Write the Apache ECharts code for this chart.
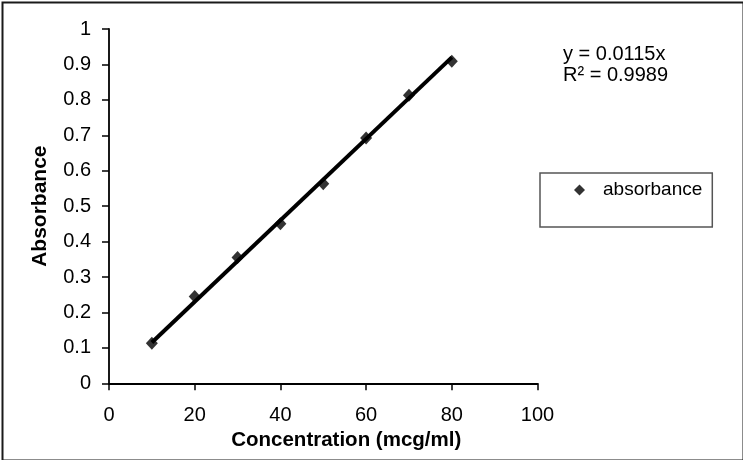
<!DOCTYPE html>
<html>
<head>
<meta charset="utf-8">
<script src="https://cdn.jsdelivr.net/npm/echarts@6/dist/echarts.min.js"></script>
<style>
html,body{margin:0;padding:0;background:#fff;}
#c{width:743px;height:460px;}
</style>
</head>
<body>
<div id="c"></div>
<script>
// Data
var concentration = [10, 20, 30, 40, 50, 60, 70, 80];
var absorbance = [0.113, 0.245, 0.355, 0.450, 0.563, 0.692, 0.813, 0.909];
var trendX = [10, 80];
var trendY = [0.115, 0.92];
var equationLines = ['y = 0.0115x', 'R² = 0.9989'];
var seriesName = 'absorbance';
var xAxisName = 'Concentration (mcg/ml)';
var yAxisName = 'Absorbance';

var FONT = '"Liberation Sans", Arial, sans-serif';

var chart = echarts.init(document.getElementById('c'));
chart.setOption({
  animation: false,
  backgroundColor: '#fff',
  grid: { left: 109, right: 205.5, top: 29, bottom: 76.7 },
  xAxis: {
    type: 'value', min: 0, max: 100, interval: 20,
    name: xAxisName, nameLocation: 'middle', nameGap: 37,
    nameTextStyle: { fontFamily: FONT, fontWeight: 'bold', fontSize: 20.5, color: '#000', padding: [0, 0, 0, 46] },
    axisLine: { lineStyle: { color: '#000', width: 1.8 } },
    axisTick: { length: 7, lineStyle: { color: '#000', width: 1.5 } },
    axisLabel: { fontFamily: FONT, fontSize: 20, color: '#000', margin: 22 },
    splitLine: { show: false }
  },
  yAxis: {
    type: 'value', min: 0, max: 1, interval: 0.1,
    name: yAxisName, nameLocation: 'middle', nameGap: 58, nameRotate: 90,
    nameTextStyle: { fontFamily: FONT, fontWeight: 'bold', fontSize: 21, color: '#000' },
    axisLine: { show: true, lineStyle: { color: '#000', width: 1.8 } },
    axisTick: { show: true, length: 7, lineStyle: { color: '#000', width: 1.5 } },
    axisLabel: { fontFamily: FONT, fontSize: 20, color: '#000', margin: 18,
      formatter: function (v) { return String(Math.round(v * 10) / 10); } },
    splitLine: { show: false }
  },
  legend: {
    data: [seriesName],
    left: 540, top: 173,
    orient: 'vertical',
    borderColor: '#555', borderWidth: 1.5,
    padding: [7, 10, 27, 34],
    itemWidth: 11, itemHeight: 11,
    textStyle: { fontFamily: FONT, fontSize: 19, color: '#000', lineHeight: 20, padding: [0, 0, 0, 13] }
  },
  series: [
    {
      name: 'trend', type: 'line',
      data: trendX.map(function (x, i) { return [x, trendY[i]]; }),
      showSymbol: false, symbol: 'none',
      lineStyle: { color: '#000', width: 4 },
      z: 2
    },
    {
      name: seriesName, type: 'scatter',
      data: concentration.map(function (x, i) { return [x, absorbance[i]]; }),
      symbol: 'diamond', symbolSize: [12, 13],
      itemStyle: { color: '#000' },
      z: 3
    }
  ],
  graphic: [
    {
      type: 'text', left: 563, top: 44,
      style: { text: equationLines.join('\n'), font: '20px ' + FONT, fill: '#000', lineHeight: 21 }
    },
    {
      type: 'rect', left: 0, top: 0, silent: true,
      shape: { x: 0, y: 0, width: 741, height: 458 },
      style: { fill: 'none', stroke: '#1a1a1a', lineWidth: 2 },
      position: [1, 1]
    }
  ]
});
</script>
</body>
</html>
